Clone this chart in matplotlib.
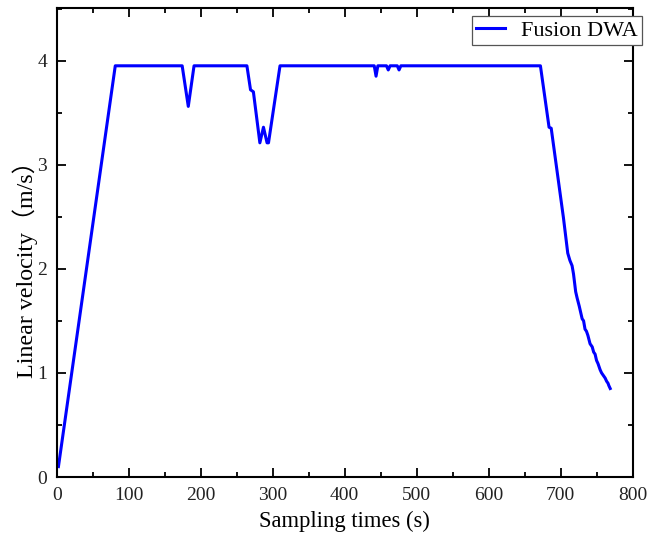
import matplotlib
matplotlib.use("Agg")
import matplotlib.pyplot as plt
from matplotlib.ticker import MultipleLocator

# Data: sampling time (s) and linear velocity (m/s)
time_s = [2, 81, 174, 182.5, 190.5, 264, 269, 273, 282, 287, 292, 294, 310,
          441, 443.5, 446, 458, 460.5, 463, 473, 475.5, 478,
          672, 684, 687, 704, 710, 713, 716, 718, 721, 723, 726, 728, 730, 732,
          734, 736, 738, 741, 744, 746, 748, 750, 752, 755, 757, 760, 762, 764,
          766, 767, 769]
velocity = [0.10, 3.95, 3.95, 3.56, 3.95, 3.95, 3.72, 3.70, 3.21, 3.36, 3.21, 3.21, 3.95,
            3.95, 3.85, 3.95, 3.95, 3.91, 3.95, 3.95, 3.91, 3.95,
            3.95, 3.36, 3.35, 2.49, 2.15, 2.08, 2.03, 1.95, 1.78, 1.72, 1.64, 1.58, 1.52, 1.50,
            1.42, 1.40, 1.36, 1.28, 1.25, 1.20, 1.18, 1.12, 1.09, 1.03, 1.00, 0.97, 0.95, 0.92,
            0.90, 0.88, 0.85]
series_label = "Fusion DWA"
x_label = "Sampling times (s)"
y_label = "Linear velocity（m/s）"

plt.rcParams['font.family'] = ['Liberation Serif', 'Noto Sans CJK SC', 'DejaVu Sans']

fig = plt.figure(figsize=(6.47, 5.38), dpi=100)
ax = fig.add_axes([57/647, 1-477/538, (632.5-57)/647, (477-7.5)/538])

ax.plot(time_s, velocity, color='#0000FF', linewidth=2.2, label=series_label)

ax.set_xlim(0, 800)
ax.set_ylim(0, 4.51)
ax.xaxis.set_major_locator(MultipleLocator(100))
ax.xaxis.set_minor_locator(MultipleLocator(50))
ax.yaxis.set_major_locator(MultipleLocator(1))
ax.yaxis.set_minor_locator(MultipleLocator(0.5))

for s in ax.spines.values():
    s.set_linewidth(1.5)
ax.tick_params(which='both', direction='in', top=True, right=True, width=1.3,
               labelsize=14, colors='black', labelcolor='#222222')
ax.tick_params(which='major', length=6.5, pad=7)
ax.tick_params(which='minor', length=3.5)

ax.set_xlabel(x_label, fontsize=16.3, labelpad=5)
ax.set_ylabel(y_label, fontsize=17.3, va='center')
ax.yaxis.set_label_coords(-0.056, 0.455)

leg = ax.legend(loc='upper right', bbox_to_anchor=(642/647, 1-16/538),
                bbox_transform=fig.transFigure, fontsize=16, fancybox=False,
                frameon=True, borderaxespad=0, handlelength=1.3, handletextpad=0.7,
                borderpad=0.2)
leg.get_frame().set_edgecolor('#555555')
leg.get_frame().set_linewidth(0.9)
leg.get_frame().set_alpha(1)
leg.set_zorder(5)

fig.savefig('out.png', dpi=100)
